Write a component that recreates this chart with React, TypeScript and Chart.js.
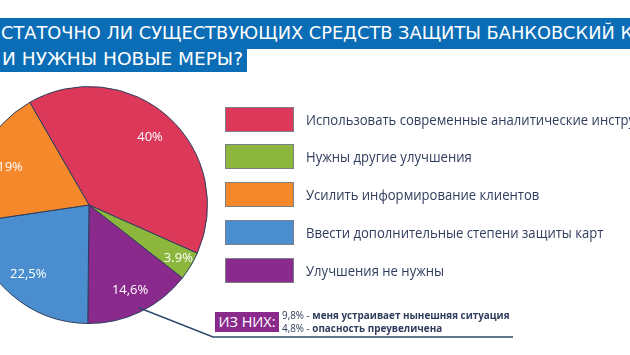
import React, { useEffect, useLayoutEffect, useRef } from "react";
import { Chart, registerables } from "chart.js";

Chart.register(...registerables);

// ---- data ----
const sliceCategories = [
  "Использовать современные аналитические инструменты",
  "Нужны другие улучшения",
  "Улучшения не нужны",
  "Ввести дополнительные степени защиты карт",
  "Усилить информирование клиентов",
];
const sliceValues = [40, 3.9, 14.6, 22.5, 19];
const sliceLabels = ["40%", "3.9%", "14,6%", "22,5%", "19%"];
const sliceColors = ["#DC385A", "#8DB63D", "#8B2A8D", "#4A8ECF", "#F4882A"];
const legendOrder = [0, 1, 4, 3, 2];

const titleLines = [
  "СТАТОЧНО ЛИ СУЩЕСТВУЮЩИХ СРЕДСТВ ЗАЩИТЫ БАНКОВСКИЙ К",
  "И НУЖНЫ НОВЫЕ МЕРЫ?",
];
const noteTag = "ИЗ НИХ:";
const notePercents = ["9,8%", "4,8%"];
const noteTexts = ["меня устраивает нынешняя ситуация", "опасность преувеличена"];

// ---- styles (not data) ----
const labelRadius = [0.77, 0.88, 0.8, 0.78, 0.74];
const titleWidths = [632, 241];
const LINE_COLOR = "#2E4A6B";
const TEXT_COLOR = "#2F3C5C";
const FONT = "'Open Sans', 'DejaVu Sans', sans-serif";

const labelPlugin = {
  id: "sliceLabels",
  afterDatasetsDraw(chart: any) {
    const ctx = chart.ctx;
    const meta = chart.getDatasetMeta(0);
    ctx.save();
    ctx.fillStyle = "#ffffff";
    ctx.font = `13px ${FONT}`;
    ctx.textAlign = "center";
    ctx.textBaseline = "middle";
    meta.data.forEach((arc: any, i: number) => {
      const p = arc.getProps(["x", "y", "startAngle", "endAngle", "outerRadius"], true);
      const mid = (p.startAngle + p.endAngle) / 2;
      const r = p.outerRadius * labelRadius[i];
      ctx.fillText(sliceLabels[i], p.x + Math.cos(mid) * r, p.y + Math.sin(mid) * r);
    });
    // leader line from the "not needed" slice to the note
    const arc = meta.data[2];
    const p = arc.getProps(["x", "y", "startAngle", "endAngle", "outerRadius"], true);
    const mid = (p.startAngle + p.endAngle) / 2;
    const sx = p.x + Math.cos(mid) * p.outerRadius * 0.96;
    const sy = p.y + Math.sin(mid) * p.outerRadius * 0.96;
    ctx.strokeStyle = LINE_COLOR;
    ctx.lineWidth = 1.5;
    ctx.beginPath();
    ctx.moveTo(sx, sy);
    ctx.lineTo(249, 257);
    ctx.lineTo(549, 257);
    ctx.stroke();
    ctx.restore();
  },
};

function FitText({ text, width, style }: { text: string; width: number; style: any }) {
  const ref = useRef<HTMLSpanElement>(null);
  useLayoutEffect(() => {
    const el = ref.current;
    if (!el) return;
    el.style.transform = "none";
    const w = el.getBoundingClientRect().width;
    if (w > 0) el.style.transform = `scaleX(${width / w})`;
  }, [text, width]);
  return (
    <span
      ref={ref}
      style={{ ...style, display: "inline-block", transformOrigin: "0 50%", whiteSpace: "nowrap" }}
    >
      {text}
    </span>
  );
}

export default function App() {
  const ref = useRef<HTMLCanvasElement>(null);
  useEffect(() => {
    if (!ref.current) return;
    const chart = new Chart(ref.current, {
      type: "pie",
      data: {
        labels: sliceCategories,
        datasets: [
          {
            data: sliceValues,
            backgroundColor: sliceColors,
            borderColor: "#2B3D5C",
            borderWidth: 1,
          },
        ],
      },
      options: {
        responsive: false,
        animation: false,
        rotation: -30,
        layout: { padding: { left: 6, top: 6, right: 316, bottom: 16 } },
        plugins: { legend: { display: false }, tooltip: { enabled: false } },
      },
      plugins: [labelPlugin],
    });
    return () => chart.destroy();
  }, []);

  return (
    <div
      style={{
        position: "fixed",
        left: 0,
        top: 0,
        width: 630,
        height: 355,
        overflow: "hidden",
        background: "#fff",
        fontFamily: FONT,
      }}
    >
      <div
        style={{
          position: "absolute",
          left: 0,
          top: 18,
          width: 630,
          height: 31,
          background: "#0B6DB5",
        }}
      />
      <div
        style={{
          position: "absolute",
          left: 0,
          top: 48,
          width: 247,
          height: 24,
          background: "#0B6DB5",
        }}
      />
      {titleLines.map((t, i) => (
        <div
          key={i}
          style={{
            position: "absolute",
            left: i === 0 ? 1 : 2,
            top: i === 0 ? 20 : 46,
            lineHeight: "26px",
          }}
        >
          <FitText
            text={t}
            width={titleWidths[i]}
            style={{
              color: "#fff",
              fontFamily: "'DejaVu Sans Condensed', 'DejaVu Sans', sans-serif",
              fontSize: 18,
              lineHeight: "26px",
            }}
          />
        </div>
      ))}
      <canvas
        ref={ref}
        width={560}
        height={260}
        style={{ position: "absolute", left: -36, top: 80, width: 560, height: 260 }}
      />
      {legendOrder.map((idx, row) => (
        <div
          key={idx}
          style={{
            position: "absolute",
            left: 225,
            top: 107 + row * 37.8,
            height: 24,
            display: "flex",
            alignItems: "center",
            whiteSpace: "nowrap",
          }}
        >
          <div
            style={{
              width: 67,
              height: 23,
              background: sliceColors[idx],
              border: "1px solid #7A7F88",
              flex: "none",
            }}
          />
          <span
            style={{
              marginLeft: 12,
              fontSize: 14,
              color: TEXT_COLOR,
              display: "inline-block",
              transform: "scaleX(0.935)",
              transformOrigin: "0 50%",
            }}
          >
            {sliceCategories[idx]}
          </span>
        </div>
      ))}
      <div
        style={{
          position: "absolute",
          left: 215,
          top: 312,
          width: 64,
          height: 20,
          background: "#8B2A8D",
          color: "#fff",
          fontSize: 14.5,
          lineHeight: "20px",
          textAlign: "center",
          whiteSpace: "nowrap",
        }}
      >
        {noteTag}
      </div>
      {notePercents.map((pct, i) => (
        <div
          key={i}
          style={{
            position: "absolute",
            left: 282,
            top: 309 + i * 13,
            fontSize: 10.5,
            lineHeight: "13px",
            color: TEXT_COLOR,
            whiteSpace: "nowrap",
            transform: "scaleX(0.94)",
            transformOrigin: "0 50%",
          }}
        >
          <span>{pct} - </span>
          <span style={{ fontWeight: 700 }}>{noteTexts[i]}</span>
        </div>
      ))}
    </div>
  );
}
